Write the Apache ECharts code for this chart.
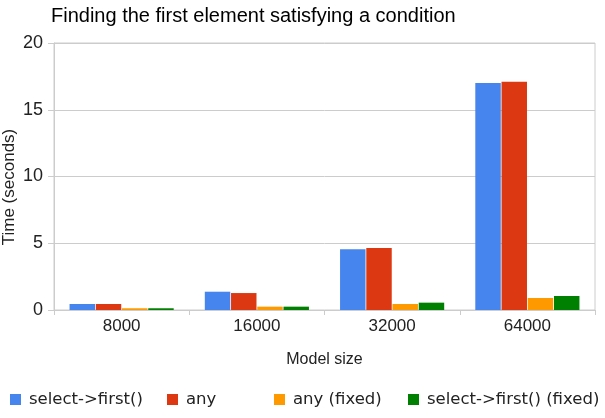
<!DOCTYPE html>
<html>
<head>
<meta charset="utf-8">
<script src="https://cdn.jsdelivr.net/npm/echarts@6/dist/echarts.min.js"></script>
<style>
  html, body { margin: 0; padding: 0; background: #fff; }
  #chart { width: 605px; height: 418px; }
</style>
</head>
<body>
<div id="chart"></div>
<script>
// data
const categories = ['8000', '16000', '32000', '64000'];
const seriesNames = ['select->first()', 'any', 'any (fixed)', 'select->first() (fixed)'];
const selectFirst = [0.45, 1.37, 4.55, 17.0];
const anyValues = [0.45, 1.27, 4.64, 17.1];
const anyFixed = [0.13, 0.25, 0.45, 0.9];
const selectFirstFixed = [0.13, 0.25, 0.55, 1.05];
const colors = ['#4684ee', '#dc3912', '#ff9900', '#008000'];
const legendLeft = [10, 167, 274, 408];

const chart = echarts.init(document.getElementById('chart'), null, { renderer: 'canvas' });

const font = 'Liberation Sans, Arial, sans-serif';
const values = [selectFirst, anyValues, anyFixed, selectFirstFixed];

const option = {
  animation: false,
  color: colors,
  title: {
    text: 'Finding the first element satisfying a condition',
    left: 46,
    top: 1,
    textStyle: { fontSize: 20, fontWeight: 'normal', color: '#000', fontFamily: font }
  },
  legend: seriesNames.map((name, i) => ({
    data: [name],
    left: legendLeft[i],
    top: 391,
    padding: 0,
    icon: 'rect',
    itemWidth: 11,
    itemHeight: 11,
    itemGap: 0,
    textStyle: { fontSize: 16.5, color: '#222', fontFamily: 'DejaVu Sans, sans-serif', padding: [0, 0, 0, 3] }
  })),
  // y axis title sits a bit below the plot centre in the original, so draw it by hand
  graphic: [{
    type: 'text',
    x: 9,
    y: 187,
    rotation: Math.PI / 2,
    style: {
      text: 'Time (seconds)',
      fill: '#222',
      font: '17px ' + font,
      textAlign: 'center',
      textVerticalAlign: 'middle'
    }
  }],
  grid: {
    left: 54, right: 10, top: 43, bottom: 108,
    outerBoundsMode: 'none',
    containLabel: false,
    show: true, borderColor: '#ccc', borderWidth: 1
  },
  xAxis: {
    type: 'category',
    data: categories,
    name: 'Model size',
    nameLocation: 'middle',
    nameGap: 42,
    nameTextStyle: { fontSize: 16, color: '#222', fontFamily: font },
    axisLine: { lineStyle: { color: '#ccc' } },
    axisTick: { show: true, length: 5, lineStyle: { color: '#ccc' } },
    axisLabel: { fontSize: 17, color: '#222', margin: 8, fontFamily: font }
  },
  yAxis: {
    type: 'value',
    min: 0, max: 20, interval: 5,
    axisLine: { show: true, lineStyle: { color: '#ccc' } },
    axisTick: { show: true, length: 6, lineStyle: { color: '#ccc' } },
    axisLabel: { fontSize: 18, color: '#222', margin: 11, fontFamily: font },
    splitLine: { lineStyle: { color: '#ccc' } }
  },
  series: seriesNames.map((name, i) => ({
    name: name,
    type: 'bar',
    data: values[i],
    barGap: '3%',
    barCategoryGap: '23%'
  }))
};

chart.setOption(option);
</script>
</body>
</html>
